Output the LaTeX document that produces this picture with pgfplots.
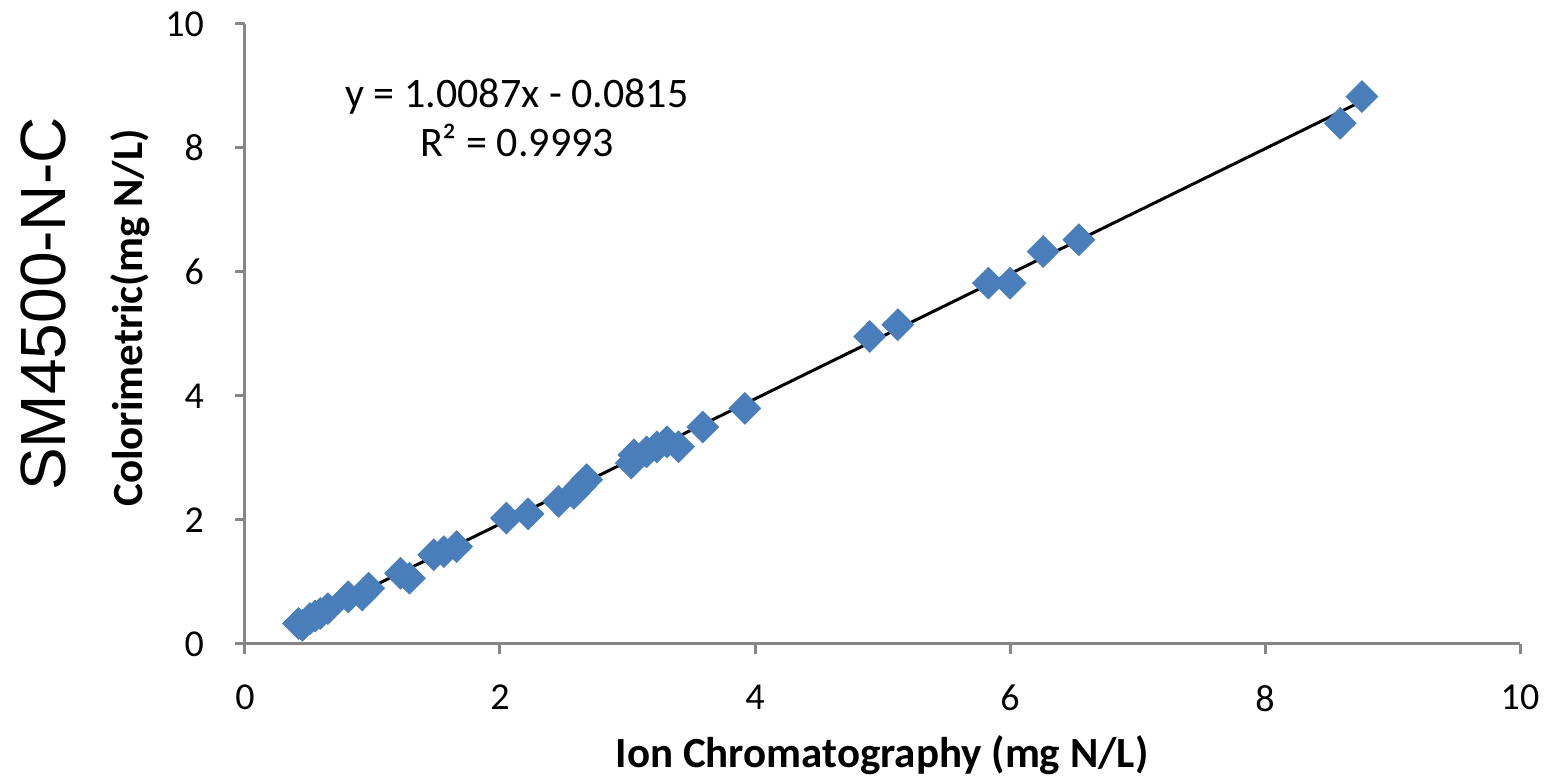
\documentclass[border=0pt]{standalone}
\usepackage{fontspec}
\setmainfont{Carlito}
\newfontfamily\arialfont{Liberation Sans}
\usepackage{pgfplots}
\pgfplotsset{compat=1.18}

\definecolor{excelblue}{RGB}{74,126,187}
\definecolor{axisgray}{RGB}{134,134,134}

\begin{document}
\begin{tikzpicture}
\begin{axis}[
    scale only axis,
    width=637.5pt,
    height=310pt,
    xmin=0, xmax=10,
    ymin=0, ymax=10,
    xtick={0,2,...,10},
    ytick={0,2,...,10},
    axis lines=left,
    axis line style={-, axisgray, line width=1.5pt},
    tick style={axisgray, line width=1.5pt},
    tick align=outside,
    major tick length=5pt,
    /pgf/number format/assume math mode=true,
    tick label style={font=\fontsize{19}{22}\selectfont, black},
    xticklabel style={yshift=-12pt},
    yticklabel style={xshift=-12pt},
    clip=false,
]
% measured values
\addplot[only marks, mark=square*, mark size=5.6pt,
    mark options={rotate=45, fill=excelblue, draw=excelblue}]
coordinates {
    (0.42,0.33) (0.45,0.30) (0.51,0.41) (0.55,0.45) (0.59,0.49)
    (0.65,0.57) (0.81,0.76) (0.92,0.79) (0.97,0.90) (1.22,1.14)
    (1.29,1.06) (1.48,1.44) (1.56,1.49) (1.66,1.57) (2.05,2.03)
    (2.22,2.10) (2.46,2.30) (2.58,2.43) (2.63,2.54) (2.68,2.65)
    (3.03,2.92) (3.05,3.05) (3.15,3.10) (3.23,3.18) (3.31,3.26)
    (3.40,3.18) (3.59,3.50) (3.92,3.80) (4.90,4.96) (5.12,5.15)
    (5.83,5.82) (6.00,5.82) (6.26,6.33) (6.54,6.52) (8.59,8.40)
    (8.76,8.83)
};
% linear trendline y = 1.0087x - 0.0815
\addplot[black, line width=1.5pt] coordinates {(0.42,0.3422) (8.76,8.7547)};
\end{axis}
\node[font=\fontsize{21}{24}\selectfont] at (136pt,273.5pt) {y = 1.0087x - 0.0815};
\node[font=\fontsize{21}{24}\selectfont] at (136pt,252pt) {R² = 0.9993};
\node[font=\bfseries\fontsize{21.5}{24}\selectfont] at (318.5pt,-55.5pt) {Ion Chromatography (mg N/L)};
\node[font=\bfseries\fontsize{21.5}{24}\selectfont, rotate=90] at (-57.5pt,163pt) {Colorimetric(mg N/L)};
\node[font=\arialfont\fontsize{32}{36}\selectfont, rotate=90] at (-101pt,170pt) {SM4500-N-C};
\pgfresetboundingbox
\path[use as bounding box] (-122.5pt,-66pt) rectangle (649.5pt,322pt);
\end{tikzpicture}
\end{document}
